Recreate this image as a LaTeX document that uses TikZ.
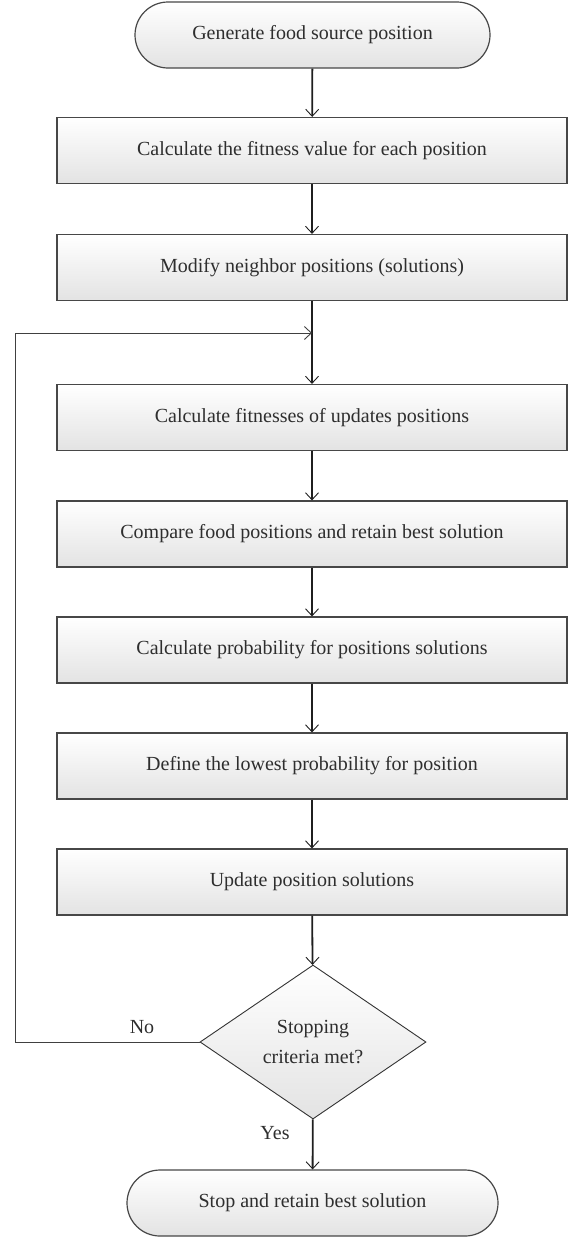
\documentclass[tikz,border=0pt]{standalone}
\usepackage{fontspec}
\setmainfont{Liberation Serif}
\usetikzlibrary{arrows.meta,shapes.geometric}
\begin{document}
\begin{tikzpicture}[x=1pt,y=-1pt,
  every node/.style={font=\fontsize{20}{24}\selectfont, text=black!82},
  procbox/.style={draw=black!72, line width=1.2pt, top color=white, bottom color=black!11,
    minimum width=510pt, minimum height=66pt, inner sep=0pt},
  termbox/.style={procbox, rounded corners=33pt, minimum width=355pt},
  decision/.style={diamond, aspect=1.47, draw=black!80, line width=0.9pt, top color=white,
    bottom color=black!11, minimum width=226pt, minimum height=154pt, inner sep=0pt,
    align=center},
  flow/.style={line width=1.8pt, black!88,
    -{Straight Barb[length=7pt,width=13pt,line width=0.9pt]}},
  back/.style={line width=1pt, black!75,
    -{Straight Barb[length=7pt,width=13pt,line width=0.9pt]}}
]
\useasboundingbox (0,0) rectangle (575,1237);

% process chain
\node[termbox] (start) at (312.5,35) {Generate food source position};
\node[procbox] (b1) at (312,150.5) {Calculate the fitness value for each position};
\node[procbox] (b2) at (312,267.5) {Modify neighbor positions (solutions)};
\node[procbox] (b3) at (312,417.5) {Calculate fitnesses of updates positions};
\node[procbox] (b4) at (312,534) {Compare food positions and retain best solution};
\node[procbox] (b5) at (312,650) {Calculate probability for positions solutions};
\node[procbox] (b6) at (312,766) {Define the lowest probability for position};
\node[procbox] (b7) at (312,882) {Update position solutions};
\node[decision, font=\fontsize{20}{30}\selectfont] (dec) at (313,1042) {Stopping\\criteria met?};
\node[termbox, minimum width=371pt] (stop) at (312.5,1203) {Stop and retain best solution};

% forward connectors
\draw[flow] (start) -- (b1);
\draw[flow] (b1) -- (b2);
\draw[flow] (b2) -- (b3);
\draw[flow] (b3) -- (b4);
\draw[flow] (b4) -- (b5);
\draw[flow] (b5) -- (b6);
\draw[flow] (b6) -- (b7);
\draw[flow] (b7) -- (dec);
\draw[flow] (dec) -- (stop);

% loop back when the criteria are not met
\coordinate (lb) at (15,1042);
\coordinate (lt) at (15,333);
\coordinate (join) at (312,333);
\draw[back] (dec.west) -- (lb) -- (lt) -- (join);

\node (nolab) at (142,1027) {No};
\node (yeslab) at (275,1133) {Yes};
\end{tikzpicture}
\end{document}
